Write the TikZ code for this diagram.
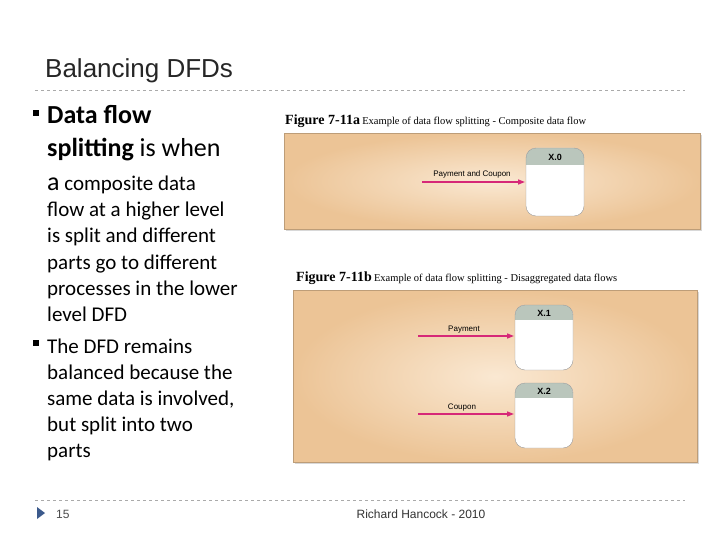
\documentclass[tikz,border=0pt]{standalone}
\usepackage{fontspec}
\setmainfont{Carlito}
\newfontfamily\arial{Liberation Sans}
\newfontfamily\tmsfont{Liberation Serif}
\usetikzlibrary{arrows.meta,shadows}
\definecolor{panel}{RGB}{236,196,150}
\definecolor{panelc}{RGB}{250,232,210}
\definecolor{hdr}{RGB}{186,198,188}
\definecolor{flow}{RGB}{214,40,120}
\definecolor{dashgray}{RGB}{170,170,170}
\definecolor{tri}{RGB}{60,90,140}
\tikzset{
 body/.style={font=\fontsize{21}{26}\selectfont, anchor=base west, inner sep=0},
 panelbox/.style={inner color=panelc, outer color=panel, draw=panel!80!black, line width=0.4pt, drop shadow={shadow xshift=2pt,shadow yshift=-2pt,opacity=0.3}},
 flowline/.style={draw=flow, line width=1.3pt, -{Triangle[length=7pt,width=5pt]}},
 flab/.style={font=\arial\fontsize{8}{9}\selectfont, inner sep=1pt},
 figcap/.style={anchor=base west, inner sep=0},
 rule/.style={draw=dashgray, dashed, line width=0.6pt},
}
\begin{document}
\begin{tikzpicture}[x=1pt,y=-1pt]
\useasboundingbox (0,0) rectangle (720,540);
\fill[white] (0,0) rectangle (720,540);
\node[anchor=base west, inner sep=0, font=\arial\fontsize{26}{30}\selectfont, text=black!85] (title) at (45,78) {Balancing DFDs};
\draw[rule] (35,90) coordinate (l1a) -- (685,90) coordinate (l1b);
\draw[rule] (35,500) coordinate (l2a) -- (685,500) coordinate (l2b);
% bullets
\fill[black] (33,110) rectangle (39,116);
\fill[black] (33,340) rectangle (39,346);
\node[body, font=\fontsize{26}{30}\selectfont\bfseries] (t1) at (47,124) {Data flow};
\node[body, font=\fontsize{26}{30}\selectfont] (t2) at (47,157) {\textbf{splitting} is when};
\node[body] (t3) at (47,191) {{\fontsize{26}{30}\selectfont a} composite data};
\node[body] (t4) at (47,217) {flow at a higher level};
\node[body] (t5) at (47,243) {is split and different};
\node[body] (t6) at (47,269) {parts go to different};
\node[body] (t7) at (47,295) {processes in the lower};
\node[body] (t8) at (47,321) {level DFD};
\node[body] (t9) at (47,353) {The DFD remains};
\node[body] (t10) at (47,379) {balanced because the};
\node[body] (t11) at (47,405) {same data is involved,};
\node[body] (t12) at (47,431) {but split into two};
\node[body] (t13) at (47,457) {parts};
% footer
\fill[tri] (37,507) -- (45,513) -- (37,519) -- cycle;
\node[anchor=base west, inner sep=0, font=\arial\fontsize{12}{14}\selectfont, text=black!70] (pg) at (56,518) {15};
\node[anchor=base, inner sep=0, font=\arial\fontsize{12}{14}\selectfont, text=black!80] (auth) at (421,518) {Richard Hancock - 2010};
% figure a
\node[figcap] (capa) at (285,125) {{\tmsfont\bfseries\fontsize{14}{16}\selectfont Figure 7-11a}\ {\tmsfont\fontsize{10.5}{12}\selectfont Example of data flow splitting - Composite data flow}};
\node[panelbox, minimum width=416pt, minimum height=96pt, anchor=north west, inner sep=0] (pa) at (284,133) {};
\fill[white, rounded corners=10pt] (526,148) rectangle (584,216);
\begin{scope}\clip[rounded corners=10pt] (526,148) rectangle (584,216);
\fill[hdr] (526,148) rectangle (584,165);\end{scope}
\draw[black!40, line width=0.4pt, rounded corners=10pt] (526,148) rectangle (584,216);
\node[flab, font=\arial\bfseries\fontsize{9}{10}\selectfont] (x0) at (555,157) {X.0};
\coordinate (x0in) at (525,182);
\coordinate (a0) at (422,182);
\draw[flowline] (a0) -- (x0in);
\node[flab] (la) at (472,174) {Payment and Coupon};
% figure b
\node[figcap] (capb) at (296,281) {{\tmsfont\bfseries\fontsize{14}{16}\selectfont Figure 7-11b}\ {\tmsfont\fontsize{10.5}{12}\selectfont Example of data flow splitting - Disaggregated data flows}};
\node[panelbox, minimum width=404pt, minimum height=172pt, anchor=north west, inner sep=0] (pb) at (293,290) {};
\foreach \yy/\lab in {305/X.1,383/X.2}{
\fill[white, rounded corners=10pt] (515,\yy) rectangle (573,\yy+65);
\begin{scope}\clip[rounded corners=10pt] (515,\yy) rectangle (573,\yy+65);
\fill[hdr] (515,\yy) rectangle (573,\yy+15);\end{scope}
\draw[black!40, line width=0.4pt, rounded corners=10pt] (515,\yy) rectangle (573,\yy+65);
\node[flab, font=\arial\bfseries\fontsize{9}{10}\selectfont] at (544,\yy+8) {\lab};
}
\coordinate (x1in) at (514,336);
\coordinate (x2in) at (514,414);
\coordinate (a1) at (418,336);
\coordinate (a2) at (418,414);
\draw[flowline] (a1) -- (x1in);
\draw[flowline] (a2) -- (x2in);
\node[flab] (lb1) at (464,330) {Payment};
\node[flab] (lb2) at (462,408) {Coupon};
\end{tikzpicture}
\end{document}
